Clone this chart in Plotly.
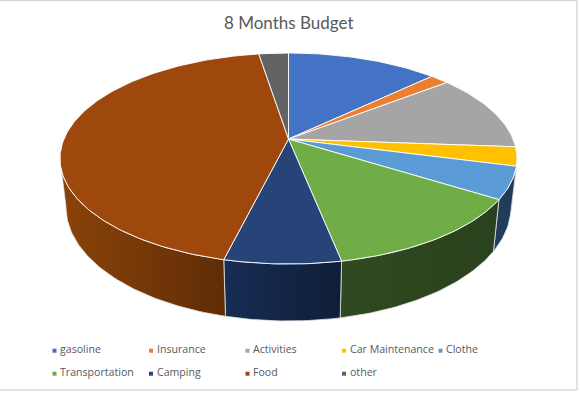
import math
import plotly.graph_objects as go

# --- data -------------------------------------------------------------
categories = ["gasoline", "Insurance", "Activities", "Car Maintenance", "Clothe",
              "Transportation", "Camping", "Food", "other"]
shares = [12.8, 1.6, 11.8, 2.9, 4.9, 12.9, 6.9, 43.7, 2.5]
top_colors = ["#4472C4", "#ED7D31", "#A5A5A5", "#FFC000", "#5B9BD5",
              "#70AD47", "#264478", "#9E480E", "#636363"]
side_left = ["#28446F", "#8E4B1D", "#636363", "#997300", "#213F5C",
             "#2F4A20", "#172D54", "#8B4309", "#3B3B3B"]
side_right = ["#28446F", "#8E4B1D", "#636363", "#997300", "#1F3A55",
              "#2A411D", "#0F1E38", "#5F2D06", "#3B3B3B"]
title_text = "8 Months Budget"

# --- projection of the pie disc to the page ---------------------------
W, H = 580, 394
APEX_X, APEX_Y = 288.5, 139.0
TOP_BACK, TOP_FRONT, TOP_RX = 86.0, 125.0, 228.5
ELL_Y = APEX_Y + (TOP_FRONT - TOP_BACK) / 2
ELL_RY = (TOP_FRONT + TOP_BACK) / 2
BOT_Y, BOT_RY, BOT_RX = 207.0, 114.0, 222.5
K = (TOP_FRONT - TOP_BACK) / (TOP_FRONT + TOP_BACK)
A = TOP_BACK * (1 + K)
B = TOP_RX * math.sqrt(1 - K * K)


def top_pt(deg):
    t = math.radians(deg)
    u, v = math.sin(t), math.cos(t)
    d = 1 + K * v
    return APEX_X + B * u / d, APEX_Y - A * v / d


def bottom_pt(deg):
    x, y = top_pt(deg)
    return APEX_X + (x - APEX_X) * BOT_RX / TOP_RX, BOT_Y + (y - ELL_Y) * BOT_RY / ELL_RY


def arc(fn, a0, a1):
    n = max(2, int(abs(a1 - a0)) + 2)
    return [fn(a0 + (a1 - a0) * i / (n - 1)) for i in range(n)]


v_ext = -(TOP_FRONT - TOP_BACK) / 2 / (A + K * (TOP_FRONT - TOP_BACK) / 2)
VIS0 = math.degrees(math.acos(v_ext))
VIS1 = 360 - VIS0

total = sum(shares)
edges = [0.0]
for s in shares:
    edges.append(edges[-1] + s / total * 360)

fig = go.Figure()

# side walls
for i, cat in enumerate(categories):
    a0, a1 = max(edges[i], VIS0), min(edges[i + 1], VIS1)
    if a1 <= a0:
        continue
    pts = arc(top_pt, a0, a1) + arc(bottom_pt, a1, a0)
    pts.append(pts[0])
    # colour runs left to right on the page
    fig.add_trace(go.Scatter(
        x=[p[0] for p in pts], y=[p[1] for p in pts], mode="lines", fill="toself",
        line=dict(color="#E4E4E4", width=0.8), name=cat, showlegend=False, hoverinfo="name",
        fillgradient=dict(type="horizontal",
                          colorscale=[[0, side_left[i]], [1, side_right[i]]]),
    ))

# top faces
for i, cat in enumerate(categories):
    pts = [(APEX_X, APEX_Y)] + arc(top_pt, edges[i], edges[i + 1]) + [(APEX_X, APEX_Y)]
    fig.add_trace(go.Scatter(
        x=[p[0] for p in pts], y=[p[1] for p in pts], mode="lines", fill="toself",
        fillcolor=top_colors[i], line=dict(color="#FFFFFF", width=0.9),
        name=cat, showlegend=False, hoverinfo="name",
    ))

# legend built from the categories (5 columns, 2 rows)
LEG_X0, LEG_DX, LEG_Y0, LEG_DY = 54.5, 96.5, 350.7, 23.0
annotations = [dict(x=288.5, y=22, text=title_text, showarrow=False, xanchor="center",
                    yanchor="middle", font=dict(family="Lato", size=17, color="#595959"))]
for i, cat in enumerate(categories):
    col, row = i % 5, i // 5
    lx = LEG_X0 + col * LEG_DX
    ly = LEG_Y0 + row * LEG_DY
    fig.add_trace(go.Scatter(x=[lx], y=[ly], mode="markers", showlegend=False, hoverinfo="skip",
                             marker=dict(symbol="square", size=4, color=top_colors[i], line=dict(width=0))))
    annotations.append(dict(x=lx + 3.5, y=ly - 1.7, text=cat, showarrow=False, xanchor="left",
                            yanchor="middle", font=dict(family="Open Sans", size=10.6, color="#595959")))

fig.update_layout(
    width=W, height=H, autosize=False,
    margin=dict(l=0, r=0, t=0, b=0),
    paper_bgcolor="white", plot_bgcolor="white", showlegend=False,
    xaxis=dict(range=[0, W], visible=False, fixedrange=True),
    yaxis=dict(range=[H, 0], visible=False, fixedrange=True),
    annotations=annotations,
    shapes=[dict(type="rect", x0=-2, x1=577, y0=0.5, y1=390, xref="x", yref="y",
                 line=dict(color="#D9D9D9", width=1.5), layer="below")],
)
fig.write_html("out.html", config={"displayModeBar": False},
               post_script="document.body.style.margin='0';document.documentElement.style.overflow='hidden';")
